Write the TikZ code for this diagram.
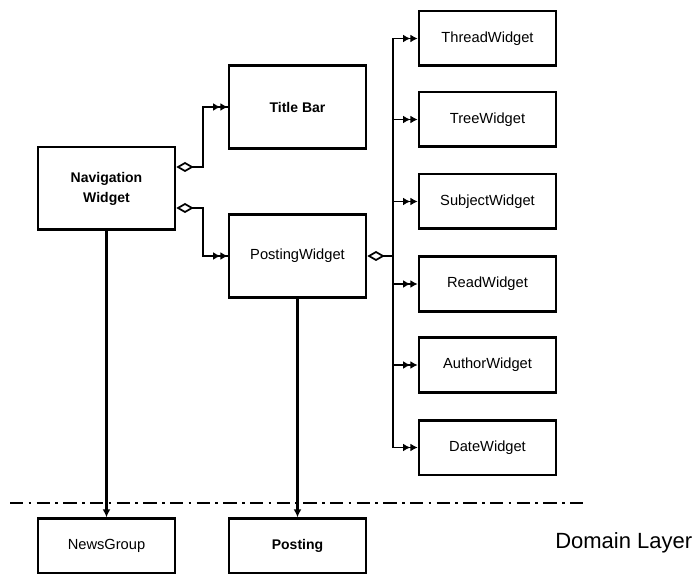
\documentclass[tikz,border=0pt]{standalone}
\usepackage{fontspec}
\setmainfont{Liberation Sans}
\usetikzlibrary{arrows.meta}
\begin{document}
\begin{tikzpicture}[x=0.75pt,y=-0.75pt,
  box/.style={draw,line width=2pt,minimum width=102.75pt,inner sep=0pt,font=\fontsize{11}{13}\selectfont,align=center},
  tallbox/.style={box,minimum height=62pt},
  flatbox/.style={box,minimum height=41pt},
  link/.style={line width=1.6pt},
  thin/.style={line width=1.3pt},
  agg/.style={{Diamond[fill=white,length=13pt,width=7.5pt,line width=1.3pt]}-},
  twohead/.style={-{Latex[length=5.5pt,width=6pt]Latex[length=5.5pt,width=6pt]}},
  onehead/.style={-{Latex[length=6pt,width=6pt]}}
]
\useasboundingbox (0,0) rectangle (697,574);

% presentation widgets
\node[tallbox,font=\bfseries\fontsize{10.5}{15}\selectfont] (nav) at (106.5,188.5) {Navigation\\Widget};
\node[tallbox,font=\bfseries\fontsize{10.5}{13}\selectfont] (title) at (297.5,107) {Title Bar};
\node[tallbox] (pw) at (297.5,256) {PostingWidget};

\node[flatbox] (thread)  at (487.5,38.5)  {ThreadWidget};
\node[flatbox] (tree)    at (487.5,119.5) {TreeWidget};
\node[flatbox] (subject) at (487.5,201.5) {SubjectWidget};
\node[flatbox] (read)    at (487.5,284)   {ReadWidget};
\node[flatbox] (author)  at (487.5,365)   {AuthorWidget};
\node[flatbox] (date)    at (487.5,447.5) {DateWidget};

% domain objects
\node[flatbox,font=\fontsize{11}{13}\selectfont] (group) at (106.5,546) {NewsGroup};
\node[flatbox,font=\bfseries\fontsize{10.5}{13}\selectfont] (post) at (297.5,546) {Posting};
\node[anchor=west,font=\fontsize{16.5}{18}\selectfont,inner sep=0pt] (layer) at (555,543) {Domain Layer};

% navigation widget aggregates title bar and posting widget
\coordinate (n1) at (nav.east |- 0,167);
\coordinate (n2) at (nav.east |- 0,208);
\draw[link,agg] (n1) -- ++(27,0) coordinate (k1) |- (title.west);
\draw[link,agg] (n2) -- (k1 |- n2) |- (pw.west);
\draw[link,twohead] (k1 |- title.west) -- (title.west);
\draw[link,twohead] (k1 |- pw.west) -- (pw.west);

% posting widget aggregates the six sub-widgets
\coordinate (bus) at (393,256);
\draw[thin,agg] (pw.east) -- (bus);
\draw[thin] (bus |- thread.west) -- (bus |- date.west);
\foreach \w in {thread,tree,subject,read,author,date}
  \draw[thin,twohead] (bus |- \w.west) -- (\w.west);

% layer boundary
\coordinate (ls) at (10,503);
\coordinate (le) at (585,503);
\draw[line width=1.3pt,dash pattern=on 10pt off 4pt on 2pt off 4pt] (ls) -- (le);

% references into the domain layer
\draw[link,onehead] (nav.south) -- (group.north);
\draw[link,onehead] (pw.south) -- (post.north);
\end{tikzpicture}
\end{document}
